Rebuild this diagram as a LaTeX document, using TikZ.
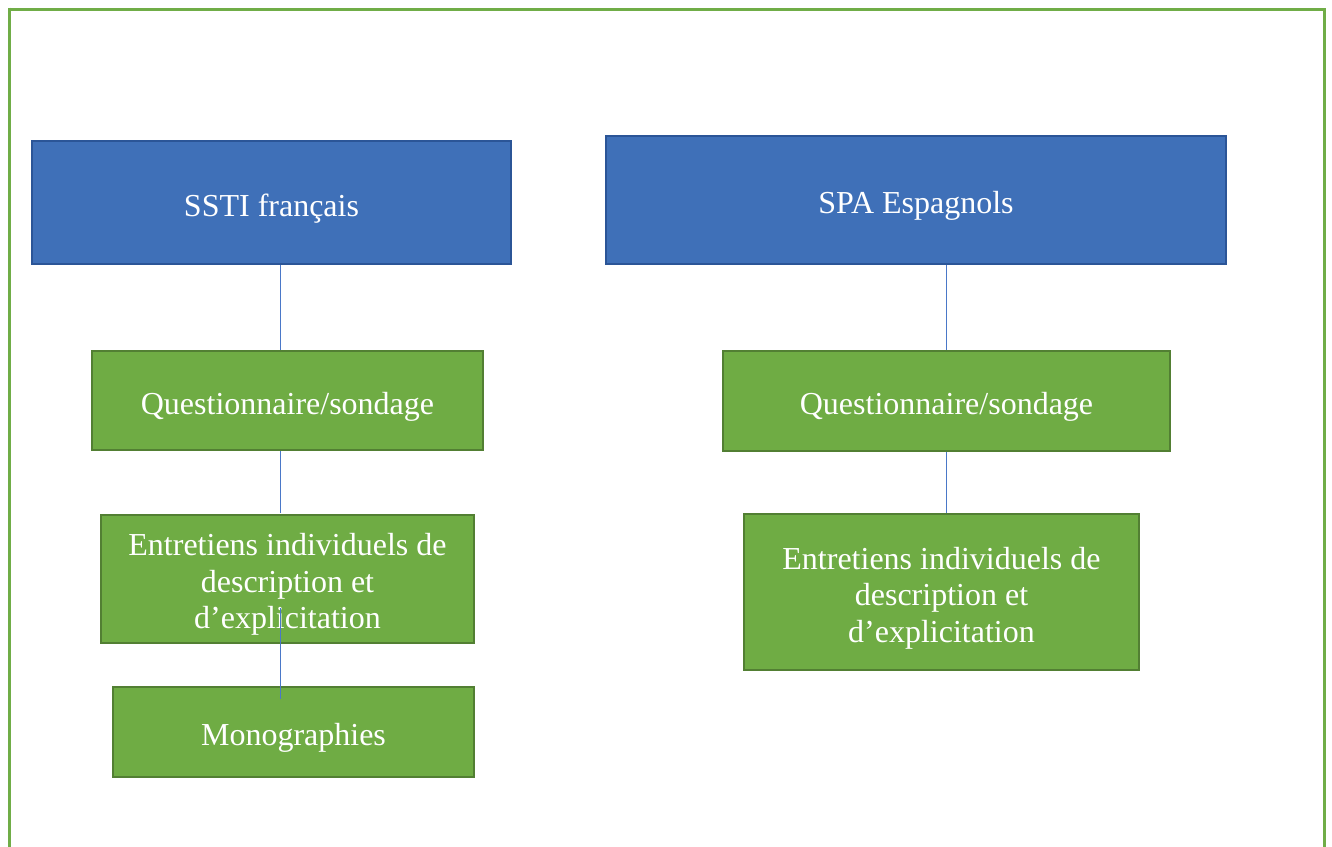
\documentclass[tikz,border=0pt]{standalone}
\usepackage{fontspec}
\setmainfont{Liberation Serif}
\definecolor{frameg}{HTML}{70AD47}
\definecolor{bluefill}{HTML}{3F70B8}
\definecolor{blueedge}{HTML}{2B5597}
\definecolor{greenfill}{HTML}{6FAC44}
\definecolor{greenedge}{HTML}{527F33}
\definecolor{linkc}{HTML}{4A78C8}
\newcommand{\pushdown}{\rule{0pt}{34pt}}
\begin{document}
\begin{tikzpicture}[x=1pt,y=-1pt,
  topbox/.style={draw=blueedge, fill=bluefill, line width=2pt, text=white, inner sep=0pt, align=center, font=\fontsize{32}{36.5}\selectfont},
  subbox/.style={draw=greenedge, fill=greenfill, line width=2pt, text=white, inner sep=0pt, align=center, font=\fontsize{32}{36.5}\selectfont},
  link/.style={draw=linkc, line width=1pt}]
\useasboundingbox (0,0) rectangle (1332,846);
\draw[frameg, line width=3pt] (9,9) -- (1324,9) -- (1324,860);
\draw[frameg, line width=3pt] (9,7.5) -- (9,860);
% top boxes
\node[topbox, minimum width=479pt, minimum height=123pt] (ssti) at (271.5,202.5) {\pushdown SSTI français};
\node[topbox, minimum width=620pt, minimum height=128pt] (spa) at (916,200) {\pushdown SPA Espagnols};
% left column
\node[subbox, minimum width=391pt, minimum height=99pt] (ql) at (287.5,400.5) {\pushdown Questionnaire/sondage};
\node[subbox, minimum width=373pt, minimum height=128pt] (el) at (287.5,578.5) {\pushdown Entretiens individuels de\\description et\\d’explicitation};
\node[subbox, minimum width=361pt, minimum height=90pt] (ml) at (293.5,732) {\pushdown Monographies};
% right column
\node[subbox, minimum width=447pt, minimum height=100pt] (qr) at (946.5,401) {\pushdown Questionnaire/sondage};
\node[subbox, minimum width=395pt, minimum height=156pt] (er) at (941.5,592) {\pushdown Entretiens individuels de\\description et\\d’explicitation};
% connectors
\coordinate (la) at (280,265);
\coordinate (lb) at (280,350);
\coordinate (lc) at (280,451);
\coordinate (ld) at (280,513);
\coordinate (le) at (280,608);
\coordinate (lf) at (280,699);
\draw[link] (la) -- (lb);
\draw[link] (lc) -- (ld);
\draw[link] (le) -- (lf);
\coordinate (ra) at (946.5,265);
\coordinate (rb) at (946.5,350);
\coordinate (rc) at (946.5,452);
\coordinate (rd) at (946.5,513);
\draw[link] (ra) -- (rb);
\draw[link] (rc) -- (rd);
\end{tikzpicture}
\end{document}
